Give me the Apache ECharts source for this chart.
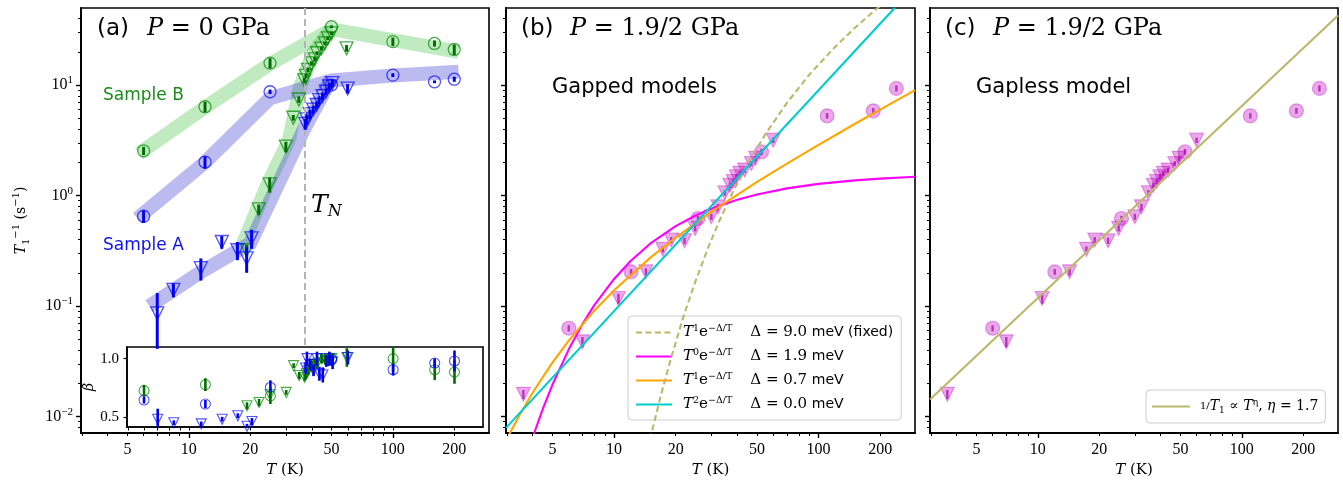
<!DOCTYPE html>
<html>
<head>
<meta charset="utf-8">
<script src="https://cdn.jsdelivr.net/npm/echarts@6.0.0/dist/echarts.min.js"></script>
<style>
html,body{margin:0;padding:0;background:#ffffff;}
#chart{width:1343px;height:485px;}
</style>
</head>
<body>
<div id="chart"></div>
<script>
// ---------------- Panel (a): P = 0 GPa ----------------
const aB_circ_T = [6, 12, 25, 50, 100, 160, 200];
const aB_circ_R = [2.54, 6.37, 15.8, 33.7, 24.7, 23.8, 21.0];
const aB_circ_E = [0.22, 0.7, 1.7, 1.0, 2.2, 1.5, 2.3];
const aA_circ_T = [6, 12, 25, 50, 100, 160, 200];
const aA_circ_R = [0.65, 2.01, 8.7, 10.0, 12.3, 10.7, 11.3];
const aA_circ_E = [0.085, 0.26, 0.4, 0.5, 0.5, 0.3, 0.6];
const aB_tri_T = [19.2, 22.0, 24.9, 29.9, 32.5, 34.6, 36.8, 37.5, 38.4, 39.9, 41.4, 42.5, 44.6, 46.4, 48.0, 50.0, 59.3];
const aB_tri_R = [0.32, 0.75, 1.26, 2.77, 5.06, 7.4, 11.0, 12.1, 13.7, 15.7, 17.1, 19.4, 21.4, 23.8, 26.5, 29.4, 21.5];
const aB_tri_E = [0.04, 0.08, 0.2, 0.3, 0.3, 0.5, 0.6, 0.6, 0.7, 0.7, 0.8, 0.8, 0.9, 0.9, 1.0, 1.0, 1.5];
const aA_tri_T = [7.0, 8.4, 11.45, 14.5, 17.3, 19.2, 20.3, 37.2, 37.8, 39.2, 40.7, 42.3, 43.5, 45.2, 47.0, 48.7, 50.5, 60.0];
const aA_tri_R = [0.086, 0.14, 0.22, 0.38, 0.32, 0.27, 0.41, 4.44, 4.9, 5.46, 6.0, 6.6, 7.3, 7.95, 8.7, 9.7, 10.4, 9.3];
const aA_tri_E = [0.045, 0.02, 0.05, 0.05, 0.06, 0.07, 0.08, 0.5, 0.5, 0.5, 0.5, 0.5, 0.6, 0.6, 0.6, 0.7, 0.8, 0.9];
// guide bands
const bandB_up_T = [5.7, 12, 25, 50, 100, 210];
const bandB_up_R = [2.4, 6.3, 15.5, 32, 25.5, 20];
const bandB_lo_T = [18, 24, 31, 35, 40.6, 50];
const bandB_lo_R = [0.33, 1.2, 3.2, 9.5, 19.4, 32];
const bandA_up_T = [5.6, 12, 25, 50, 100, 210];
const bandA_up_R = [0.62, 2.0, 7.6, 11, 12.2, 13.2];
const bandA_lo_T = [6.4, 11.3, 20, 36.5, 50];
const bandA_lo_R = [0.1, 0.2, 0.37, 3.9, 11.5];
const T_N = 37;
const T_N_LINE_BOTTOM = 0.0428;
// inset: stretching exponent beta (same temperatures as above)
const iB_circ_beta = [0.725, 0.777, 0.68, 1.0, 1.0, 0.905, 0.884];
const iB_circ_E = [0.05, 0.055, 0.07, 0.05, 0.11, 0.09, 0.1];
const iA_circ_beta = [0.645, 0.61, 0.754, 0.99, 0.905, 0.962, 0.98];
const iA_circ_E = [0.03, 0.035, 0.06, 0.05, 0.05, 0.04, 0.09];
const iB_tri_beta = [0.595, 0.624, 0.69, 0.71, 0.94, 0.855, 0.84, 0.87, 0.90, 0.94, 0.95, 0.96, 1.0, 0.99, 0.98, 1.0, 1.01];
const iB_tri_E = [0.03, 0.03, 0.03, 0.02, 0.02, 0.03, 0.03, 0.04, 0.04, 0.04, 0.04, 0.04, 0.04, 0.04, 0.04, 0.04, 0.08];
const iA_tri_beta = [0.48, 0.45, 0.44, 0.48, 0.51, 0.42, 0.46, 0.92, 1.0, 0.95, 0.90, 1.0, 0.87, 0.86, 0.98, 1.0, 0.97, 1.01];
const iA_tri_E = [0.09, 0.02, 0.02, 0.02, 0.02, 0.02, 0.03, 0.05, 0.06, 0.05, 0.05, 0.06, 0.06, 0.065, 0.05, 0.06, 0.06, 0.06];

// ---------------- Panels (b),(c): P = 1.9/2 GPa ----------------
const pC_T = [6.0, 12.1, 25.7, 52.6, 110, 185, 240];
const pC_R = [0.063, 0.204, 0.62, 2.49, 5.27, 5.85, 9.33];
const pC_E = [0.004, 0.012, 0.035, 0.15, 0.3, 0.35, 0.6];
const pT_T = [3.6, 7.0, 10.5, 14.3, 17.3, 19.0, 22.1, 24.9, 29.9, 32.2, 34.8, 36.8, 38.2, 39.6, 41.2, 43.5, 46.9, 49.2, 60.0];
const pT_R = [0.0159, 0.0475, 0.117, 0.204, 0.326, 0.396, 0.39, 0.504, 0.643, 0.79, 1.06, 1.24, 1.34, 1.48, 1.59, 1.70, 1.95, 2.17, 3.17];
const pT_E = [0.0015, 0.005, 0.012, 0.015, 0.02, 0.025, 0.025, 0.03, 0.04, 0.05, 0.06, 0.07, 0.07, 0.08, 0.08, 0.09, 0.1, 0.11, 0.18];
// model curves
const fix9_T = [15.0, 15.3, 17, 19, 22, 25, 29, 33, 38, 45, 55, 70, 90, 120, 150, 190, 200];
const fix9_R = [0.0062, 0.0073, 0.016, 0.034, 0.084, 0.168, 0.347, 0.611, 1.07, 1.94, 3.61, 6.9, 12.4, 22.0, 32.8, 48.0, 52.0];
const d19_T = [4.0, 4.1, 4.5, 5, 6, 7, 8, 10, 12, 15, 20, 25, 30, 40, 50, 70, 100, 150, 200, 296];
const d19_R = [0.0065, 0.0074, 0.012, 0.0195, 0.0406, 0.0686, 0.102, 0.176, 0.254, 0.367, 0.529, 0.66, 0.764, 0.917, 1.024, 1.161, 1.276, 1.373, 1.424, 1.478];
const d07_T = [2.96, 3.5, 4, 5, 6, 8, 10, 15, 20, 30, 50, 70, 100, 150, 200, 296];
const d07_R = [0.0061, 0.0108, 0.0165, 0.0309, 0.0486, 0.0908, 0.139, 0.273, 0.417, 0.716, 1.328, 1.948, 2.88, 4.44, 6.0, 9.0];
const d00_T = [2.96, 236];
const d00_R = [0.0079, 50];
// power law of panel (c)
const gapless_T = [2.96, 296];
const gapless_R = [0.0143, 42.5];

// ---------------- axes ----------------
const X_MIN = 2.96, X_MAX = 296, Y_MIN = 0.0071, Y_MAX = 49.8;
const X_MAJOR = [10, 100];
const X_MINOR = [3, 4, 5, 6, 7, 8, 9, 20, 30, 40, 50, 60, 70, 80, 90, 200];
const X_LABELS = [5, 10, 20, 50, 100, 200];
const Y_MAJOR = [0.01, 0.1, 1, 10];
const Y_MINOR = [0.008, 0.009, 0.02, 0.03, 0.04, 0.05, 0.06, 0.07, 0.08, 0.09, 0.2, 0.3, 0.4, 0.5, 0.6, 0.7, 0.8, 0.9, 2, 3, 4, 5, 6, 7, 8, 9, 20, 30, 40];
const IX_MIN = 4.95, IX_MAX = 276, BETA_MIN = 0.413, BETA_MAX = 1.10;
const IX_TICKS = [5, 6, 7, 8, 9, 10, 20, 30, 40, 50, 60, 70, 80, 90, 100, 200];
const BETA_TICKS = [0.5, 1.0];

const SERIF = 'DejaVu Serif', TICKF = 'Liberation Serif', SANS = 'DejaVu Sans';
const GREEN_EDGE = 'rgba(0,140,0,0.72)', GREEN_BAR = '#006e00';
const BLUE_EDGE = 'rgba(0,0,255,0.68)', BLUE_BAR = '#0000ee';
const PINK = 'rgba(191,0,191,0.34)', PINK_BAR = 'rgba(170,0,170,0.7)';

const grids = [
  {left: 81, top: 8, width: 408, height: 425},
  {left: 506, top: 8, width: 409, height: 425},
  {left: 930, top: 8, width: 408, height: 425},
  {left: 127, top: 347, width: 356, height: 80}
].map(g => Object.assign(g, {show: true, borderColor: '#000', borderWidth: 1.6, backgroundColor: 'rgba(255,255,255,0)', containLabel: false, outerBoundsMode: 'none'}));
grids[3].backgroundColor = '#ffffff';

const axLine = {show: true, lineStyle: {color: '#000', width: 1.6}};
const xName = {
  name: '{i|T}{r| (K)}', nameLocation: 'middle', nameGap: 30,
  nameTextStyle: {color: '#000', rich: {
    i: {fontFamily: SERIF, fontStyle: 'italic', fontSize: 15, color: '#000'},
    r: {fontFamily: SERIF, fontSize: 15, color: '#000'}}}
};
function xPair(gi) {
  return [
    Object.assign({type: 'log', logBase: 10, gridIndex: gi, min: X_MIN, max: X_MAX, position: 'bottom',
      axisLine: axLine, splitLine: {show: false},
      axisTick: {show: true, length: 5, lineStyle: {color: '#000', width: 1.4}, customValues: X_MAJOR},
      axisLabel: {show: true, customValues: X_LABELS, margin: 9, color: '#000', fontFamily: TICKF, fontSize: 16,
        formatter: v => String(Math.round(v))}}, xName),
    {type: 'log', logBase: 10, gridIndex: gi, min: X_MIN, max: X_MAX, position: 'bottom', offset: 0,
      axisLine: axLine, splitLine: {show: false},
      axisTick: {show: true, length: 3, lineStyle: {color: '#000', width: 1}, customValues: X_MINOR},
      axisLabel: {show: false}}
  ];
}
function yPair(gi, labels) {
  const main = {type: 'log', logBase: 10, gridIndex: gi, min: Y_MIN, max: Y_MAX, position: 'left',
    axisLine: axLine, splitLine: {show: false},
    axisTick: {show: true, length: 5, lineStyle: {color: '#000', width: 1.4}, customValues: Y_MAJOR},
    axisLabel: {show: labels, customValues: Y_MAJOR, margin: 8, color: '#000',
      formatter: v => { const e = Math.round(Math.log10(v)); return '{b|10}{s|' + (e < 0 ? '\u2212' : '') + Math.abs(e) + '}'; },
      rich: {b: {fontFamily: TICKF, fontSize: 16, lineHeight: 20, color: '#000'},
             s: {fontFamily: TICKF, fontSize: 11, lineHeight: 12, verticalAlign: 'top', color: '#000'}}}};
  if (labels) {
    Object.assign(main, {
      name: '{i|T}{sb|1}{sp|\u22121}{r| (s}{sp|\u22121}{r|)}', nameLocation: 'middle', nameGap: 50,
      nameTextStyle: {color: '#000', rich: {
        i: {fontFamily: SERIF, fontStyle: 'italic', fontSize: 14, lineHeight: 20, color: '#000'},
        r: {fontFamily: SERIF, fontSize: 14, lineHeight: 20, color: '#000'},
        sb: {fontFamily: SERIF, fontSize: 10, lineHeight: 10, verticalAlign: 'bottom', color: '#000'},
        sp: {fontFamily: SERIF, fontSize: 10, lineHeight: 10, verticalAlign: 'top', color: '#000'}}}
    });
  }
  return [main,
    {type: 'log', logBase: 10, gridIndex: gi, min: Y_MIN, max: Y_MAX, position: 'left', offset: 0,
      axisLine: axLine, splitLine: {show: false},
      axisTick: {show: true, length: 3, lineStyle: {color: '#000', width: 1}, customValues: Y_MINOR},
      axisLabel: {show: false}}];
}

const xAxis = [].concat(xPair(0), xPair(1), xPair(2), [{
  type: 'log', logBase: 10, gridIndex: 3, min: IX_MIN, max: IX_MAX, position: 'bottom',
  axisLine: axLine, splitLine: {show: false},
  axisTick: {show: true, length: 3.5, lineStyle: {color: '#000', width: 1}, customValues: IX_TICKS},
  axisLabel: {show: false}}]);
const yAxis = [].concat(yPair(0, true), yPair(1, false), yPair(2, false), [{
  type: 'value', gridIndex: 3, min: BETA_MIN, max: BETA_MAX, position: 'left',
  axisLine: axLine, splitLine: {show: false},
  axisTick: {show: true, length: 3.5, lineStyle: {color: '#000', width: 1.2}, customValues: BETA_TICKS},
  axisLabel: {show: true, customValues: BETA_TICKS, margin: 8, color: '#000', fontFamily: TICKF, fontSize: 15,
    formatter: v => v.toFixed(1)},
  name: '\u03b2', nameLocation: 'middle', nameGap: 24,
  nameTextStyle: {fontFamily: SERIF, fontStyle: 'italic', fontSize: 14, color: '#000'}}]);

// ---------------- series helpers ----------------
function scat(xi, yi, T, V, tri, size, stroke, fill, bw, z) {
  return {type: 'scatter', xAxisIndex: xi, yAxisIndex: yi, silent: true, z: z,
    symbol: tri ? 'triangle' : 'circle', symbolRotate: tri ? 180 : 0, symbolSize: size,
    itemStyle: {color: fill, borderColor: stroke, borderWidth: bw, opacity: 1},
    data: T.map((t, i) => [t, V[i]])};
}
function errs(xi, yi, T, V, E, color, width, z) {
  return {type: 'custom', xAxisIndex: xi, yAxisIndex: yi, silent: true, clip: true, z: z,
    data: T.map((t, i) => [t, V[i] - E[i], V[i] + E[i]]),
    renderItem: (params, api) => {
      const p1 = api.coord([api.value(0), api.value(1)]);
      const p2 = api.coord([api.value(0), api.value(2)]);
      return {type: 'line', shape: {x1: p1[0], y1: p1[1], x2: p2[0], y2: p2[1]},
        style: {stroke: color, lineWidth: width}};
    }};
}
function band(T, V, color) {
  return {type: 'line', xAxisIndex: 0, yAxisIndex: 0, silent: true, z: 1, symbol: 'none', showSymbol: false,
    lineStyle: {color: color, width: 14, cap: 'butt', join: 'miter'},
    data: T.map((t, i) => [t, V[i]])};
}
function curve(name, xi, yi, T, V, color, dash) {
  return {type: 'line', name: name, xAxisIndex: xi, yAxisIndex: yi, silent: true, z: 4,
    symbol: 'none', showSymbol: false, smooth: false, clip: true,
    lineStyle: {color: color, width: 2.1, type: dash ? [6, 3.5] : 'solid', join: 'round'},
    itemStyle: {color: color},
    data: T.map((t, i) => [t, V[i]])};
}

const GB = 'rgba(60,190,60,0.32)', BB = 'rgba(45,45,205,0.32)';
const series = [
  band(bandB_up_T, bandB_up_R, GB), band(bandB_lo_T, bandB_lo_R, GB),
  band(bandA_up_T, bandA_up_R, BB), band(bandA_lo_T, bandA_lo_R, BB),
  {type: 'line', xAxisIndex: 0, yAxisIndex: 0, data: [], silent: true, z: 2,
    markLine: {silent: true, symbol: ['none', 'none'], label: {show: false},
      lineStyle: {color: '#b5b5b5', width: 2, type: [7, 4]},
      data: [[{coord: [T_N, Y_MAX]}, {coord: [T_N, T_N_LINE_BOTTOM]}]]}},
  scat(0, 0, aB_circ_T, aB_circ_R, false, 12, GREEN_EDGE, 'rgba(0,0,0,0)', 1.3, 3),
  scat(0, 0, aA_circ_T, aA_circ_R, false, 12, BLUE_EDGE, 'rgba(0,0,0,0)', 1.3, 3),
  scat(0, 0, aB_tri_T, aB_tri_R, true, 13, GREEN_EDGE, 'rgba(0,0,0,0)', 1.3, 3),
  scat(0, 0, aA_tri_T, aA_tri_R, true, 13, BLUE_EDGE, 'rgba(0,0,0,0)', 1.3, 3),
  errs(0, 0, aB_circ_T, aB_circ_R, aB_circ_E, GREEN_BAR, 3, 5),
  errs(0, 0, aA_circ_T, aA_circ_R, aA_circ_E, BLUE_BAR, 3, 5),
  errs(0, 0, aB_tri_T, aB_tri_R, aB_tri_E, GREEN_BAR, 3, 5),
  errs(0, 0, aA_tri_T, aA_tri_R, aA_tri_E, BLUE_BAR, 3, 5),
  // inset
  scat(6, 6, aB_circ_T, iB_circ_beta, false, 10, GREEN_EDGE, 'rgba(0,0,0,0)', 1.1, 3),
  scat(6, 6, aA_circ_T, iA_circ_beta, false, 10, BLUE_EDGE, 'rgba(0,0,0,0)', 1.1, 3),
  scat(6, 6, aB_tri_T, iB_tri_beta, true, 10, GREEN_EDGE, 'rgba(0,0,0,0)', 1.1, 3),
  scat(6, 6, aA_tri_T, iA_tri_beta, true, 10, BLUE_EDGE, 'rgba(0,0,0,0)', 1.1, 3),
  errs(6, 6, aB_circ_T, iB_circ_beta, iB_circ_E, GREEN_BAR, 2.6, 5),
  errs(6, 6, aA_circ_T, iA_circ_beta, iA_circ_E, BLUE_BAR, 2.6, 5),
  errs(6, 6, aB_tri_T, iB_tri_beta, iB_tri_E, GREEN_BAR, 2.6, 5),
  errs(6, 6, aA_tri_T, iA_tri_beta, iA_tri_E, BLUE_BAR, 2.6, 5),
  // panel (b)
  scat(2, 2, pC_T, pC_R, false, 14, PINK, PINK, 1.2, 2),
  scat(2, 2, pT_T, pT_R, true, 14, PINK, PINK, 1.2, 2),
  errs(2, 2, pC_T, pC_R, pC_E, PINK_BAR, 2.4, 3),
  errs(2, 2, pT_T, pT_R, pT_E, PINK_BAR, 2.4, 3),
  curve('fix9', 2, 2, fix9_T, fix9_R, '#bdb76b', true),
  curve('d19', 2, 2, d19_T, d19_R, '#ff00ff', false),
  curve('d07', 2, 2, d07_T, d07_R, '#ffa500', false),
  curve('d00', 2, 2, d00_T, d00_R, '#00cccc', false),
  // panel (c)
  scat(4, 4, pC_T, pC_R, false, 14, PINK, PINK, 1.2, 2),
  scat(4, 4, pT_T, pT_R, true, 14, PINK, PINK, 1.2, 2),
  errs(4, 4, pC_T, pC_R, pC_E, PINK_BAR, 2.4, 3),
  errs(4, 4, pT_T, pT_R, pT_E, PINK_BAR, 2.4, 3),
  curve('gapless', 4, 4, gapless_T, gapless_R, '#bdb76b', false)
];

const LEG_RICH = {
  i0: {fontFamily: SERIF, fontStyle: 'italic', fontSize: 15, lineHeight: 17, padding: [0, 0, 0, 6], color: '#000'},
  i: {fontFamily: SERIF, fontStyle: 'italic', fontSize: 15, lineHeight: 17, color: '#000'},
  r: {fontFamily: SERIF, fontSize: 15, lineHeight: 17, color: '#000'},
  ci: {fontFamily: SERIF, fontStyle: 'italic', fontSize: 14, lineHeight: 17, color: '#000'},
  cr: {fontFamily: SERIF, fontSize: 14, lineHeight: 17, color: '#000'},
  f: {fontFamily: SERIF, fontSize: 10, lineHeight: 17, padding: [0, 0, 0, 5], color: '#000'},
  p: {fontFamily: SERIF, fontSize: 9.5, lineHeight: 9, verticalAlign: 'top', color: '#000'},
  b: {fontFamily: SERIF, fontSize: 9, lineHeight: 9, verticalAlign: 'bottom', color: '#000'},
  g: {fontFamily: SANS, fontSize: 15, lineHeight: 17, width: 18},
  s: {fontFamily: SANS, fontSize: 14, lineHeight: 17, color: '#000'}
};
const LEG_TXT = {
  fix9: '{i0|T}{p|1}{r|e}{p|\u2212\u0394/T}{g| }{r|\u0394 = 9.0 }{s|meV (fixed)}',
  d19: '{i0|T}{p|0}{r|e}{p|\u2212\u0394/T}{g| }{r|\u0394 = 1.9 }{s|meV}',
  d07: '{i0|T}{p|1}{r|e}{p|\u2212\u0394/T}{g| }{r|\u0394 = 0.7 }{s|meV}',
  d00: '{i0|T}{p|2}{r|e}{p|\u2212\u0394/T}{g| }{r|\u0394 = 0.0 }{s|meV}',
  gapless: '{f|1/}{ci|T}{b|1}{cr| \u221d }{ci|T}{p|\u03b7}{cr|, }{ci|\u03b7}{cr| = 1.7}'
};
const legendBase = {show: true, orient: 'vertical', itemWidth: 36, itemHeight: 14, itemGap: 8,
  padding: [8, 8, 8, 7], backgroundColor: 'rgba(255,255,255,0.8)', borderColor: '#cccccc',
  borderWidth: 1, borderRadius: 4, selectedMode: false,
  itemStyle: {opacity: 0},
  formatter: n => LEG_TXT[n], textStyle: {color: '#000', fontSize: 15, rich: LEG_RICH}};

function txt(x, y, text, rich, extra) {
  return {type: 'text', x: x, y: y, silent: true, z: 10,
    style: Object.assign({text: text, rich: rich, verticalAlign: 'middle', align: 'left', fill: '#000'}, extra || {})};
}
const titleRich = {
  s: {fontFamily: SANS, fontSize: 23, fill: '#000'},
  i: {fontFamily: SERIF, fontStyle: 'italic', fontSize: 24, fill: '#000'},
  r: {fontFamily: SERIF, fontSize: 24, fill: '#000'}
};
const graphic = [
  txt(97, 29, '{s|(a)}', titleRich), txt(147, 29, '{i|P}{r| = 0 GPa}', titleRich),
  txt(521, 29, '{s|(b)}', titleRich), txt(570, 29, '{i|P}{r| = 1.9/2 GPa}', titleRich),
  txt(945, 29, '{s|(c)}', titleRich), txt(993, 29, '{i|P}{r| = 1.9/2 GPa}', titleRich),
  txt(103, 96, 'Sample B', null, {fontFamily: SANS, fontSize: 17, fill: '#1a8c1a'}),
  txt(103, 246, 'Sample A', null, {fontFamily: SANS, fontSize: 17, fill: '#1010f0'}),
  txt(552, 88, 'Gapped models', null, {fontFamily: SANS, fontSize: 21, fill: '#000'}),
  txt(976, 88, 'Gapless model', null, {fontFamily: SANS, fontSize: 21, fill: '#000'}),
  txt(311, 205, '{t|T}{n|N}', {
    t: {fontFamily: SERIF, fontStyle: 'italic', fontSize: 25, lineHeight: 30, fill: '#000'},
    n: {fontFamily: SERIF, fontStyle: 'italic', fontSize: 16, lineHeight: 16, verticalAlign: 'bottom', fill: '#000'}})
];

const chart = echarts.init(document.getElementById('chart'), null, {renderer: 'canvas', width: 1343, height: 485});
chart.setOption({
  animation: false,
  backgroundColor: '#ffffff',
  grid: grids,
  xAxis: xAxis,
  yAxis: yAxis,
  legend: [
    Object.assign({}, legendBase, {left: 628, top: 316, data: ['fix9', 'd19', 'd07', 'd00']}),
    Object.assign({}, legendBase, {left: 1146, top: 390, itemWidth: 38, padding: [8, 7, 8, 5], data: ['gapless']})
  ],
  series: series,
  graphic: graphic
});
</script>
</body>
</html>
